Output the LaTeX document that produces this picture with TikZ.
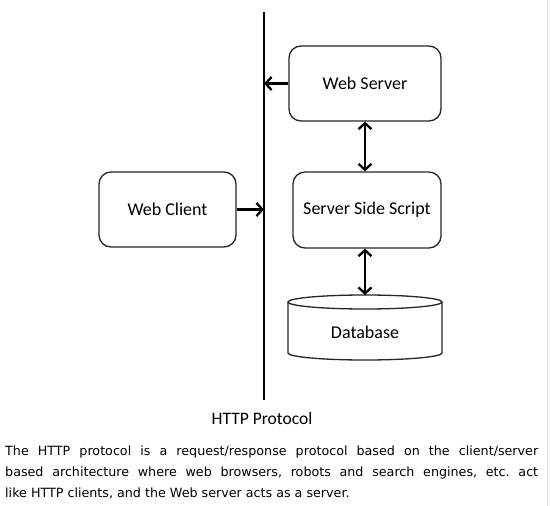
\documentclass[tikz,border=0pt]{standalone}
\usepackage{fontspec}
\setmainfont{Carlito}
\newfontfamily\parafont{DejaVu Sans}
\usetikzlibrary{arrows.meta}
\frenchspacing
\begin{document}
\begin{tikzpicture}[x=1pt,y=1pt,
  box/.style={draw=black!85,line width=1.3pt,rounded corners=12pt,fill=white,font=\fontsize{18}{21}\selectfont},
  tip/.style={Straight Barb[length=6pt,width=13pt,line width=2.3pt]},
  conn/.style={line width=2.3pt,-{Straight Barb[length=6pt,width=13pt,line width=2.3pt]}},
  dconn/.style={line width=2.3pt,{Straight Barb[length=6pt,width=13pt,line width=2.3pt]}-{Straight Barb[length=6pt,width=13pt,line width=2.3pt]}},
  para/.style={anchor=base west,inner sep=0pt,font=\parafont\fontsize{12.7}{15}\selectfont}]
\useasboundingbox (0,0) rectangle (550,-506);
\fill[white] (0,0) rectangle (550,-506);
\draw[black!12,line width=1.5pt] (547.5,0) -- (547.5,-506);
% HTTP protocol line
\coordinate (ltop) at (264,-12);
\coordinate (lbot) at (264,-400);
\draw[line width=2.4pt] (ltop) -- (lbot);
% boxes
\node[box,minimum width=152pt,minimum height=75pt] (ws) at (365,-83.5) {Web Server};
\node[box,minimum width=148pt,minimum height=76pt] (sss) at (367,-210) {Server Side Script};
\node[box,minimum width=137pt,minimum height=75pt] (wc) at (167.5,-209.5) {Web Client};
% database cylinder
\draw[draw=black!85,line width=1.3pt,fill=white] (288,-302) -- (288,-353) arc[start angle=180,end angle=360,x radius=77,y radius=7] -- (442,-302);
\draw[draw=black!85,line width=1.3pt] (365,-302) ellipse [x radius=77,y radius=7];
\coordinate (dbtop) at (365,-295);
\node[font=\fontsize{18}{21}\selectfont] (db) at (365,-332) {Database};
% connectors
\draw[conn] (ws.west) -- (ws.west -| ltop);
\draw[conn] (wc.east) -- (wc.east -| ltop);
\draw[dconn] (ws.south) -- (sss.north -| ws.south);
\draw[dconn] (sss.south -| dbtop) -- (dbtop);
% caption
\node[font=\fontsize{17.5}{21}\selectfont] (cap) at (262,-418) {HTTP Protocol};
\node[para] (p1) at (5,-455) {\makebox[533pt][s]{The HTTP protocol is a request/response protocol based on the client/server}};
\node[para] (p2) at (5,-476) {\makebox[533pt][s]{based architecture where web browsers, robots and search engines, etc. act}};
\node[para] (p3) at (5,-497) {like HTTP clients, and the Web server acts as a server.};
\end{tikzpicture}
\end{document}
